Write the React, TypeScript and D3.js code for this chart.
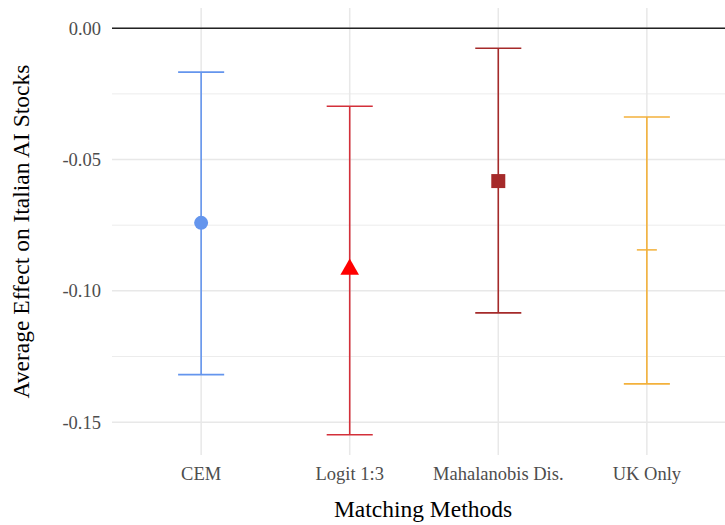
import React from 'react';
import * as d3 from 'd3';

// values
const methods = ['CEM', 'Logit 1:3', 'Mahalanobis Dis.', 'UK Only'];
const estimates = [-0.0741, -0.0918, -0.0582, -0.0844];
const lowerCI = [-0.1319, -0.1548, -0.1084, -0.1354];
const upperCI = [-0.0167, -0.0297, -0.0076, -0.0338];
const lineColors = ['#6495ED', '#d3303a', '#a52a2a', '#f3b13b'];
const pointColors = ['#6495ED', '#ff0000', '#a52a2a', '#f3b13b'];
const pointShapes = ['circle', 'triangle', 'square', 'dash'];
const yTicks = [0, -0.05, -0.1, -0.15];
const yMinorTicks = [-0.025, -0.075, -0.125];

const W = 725;
const H = 525;
const margin = { top: 8, right: -11, bottom: 70, left: 112 };
const font = '"Liberation Serif", "Times New Roman", serif';

export default function App() {
  const x = d3.scalePoint<string>()
    .domain(methods)
    .range([margin.left, W - margin.right])
    .padding(0.6);

  const y = d3.scaleLinear()
    .domain([-0.1625, 0.0077])
    .range([H - margin.bottom, margin.top]);

  const capW = x.step() * 0.31;
  const left = margin.left;
  const right = W - margin.right;
  const top = margin.top;
  const bottom = H - margin.bottom;

  const marker = (i: number) => {
    const cx = x(methods[i])!;
    const cy = y(estimates[i]);
    const c = pointColors[i];
    switch (pointShapes[i]) {
      case 'circle':
        return <circle cx={cx} cy={cy} r={7} fill={c} />;
      case 'triangle':
        return <path d={d3.symbol(d3.symbolTriangle, 150)()!} transform={`translate(${cx},${cy})`} fill={c} />;
      case 'square':
        return <rect x={cx - 7} y={cy - 7} width={14} height={14} fill={c} />;
      default:
        return <line x1={cx - 10} x2={cx + 10} y1={cy} y2={cy} stroke={c} strokeWidth={1.5} />;
    }
  };

  return (
    <svg width={W} height={H} style={{ display: 'block', position: 'absolute', left: 0, top: 0, background: '#fff' }}>
      <rect width={W} height={H} fill="#fff" />
      {/* grid */}
      {yMinorTicks.map(t => (
        <line key={'m' + t} x1={left} x2={right} y1={y(t)} y2={y(t)} stroke="#ececec" strokeWidth={1} />
      ))}
      {yTicks.map(t => (
        <line key={'g' + t} x1={left} x2={right} y1={y(t)} y2={y(t)} stroke="#e8e8e8" strokeWidth={1.5} />
      ))}
      {methods.map(m => (
        <line key={'v' + m} x1={x(m)} x2={x(m)} y1={top} y2={bottom} stroke="#e8e8e8" strokeWidth={1.5} />
      ))}
      {/* zero line */}
      <line x1={left} x2={right} y1={y(0)} y2={y(0)} stroke="#222" strokeWidth={1.5} />

      {/* error bars */}
      {methods.map((m, i) => {
        const cx = x(m)!;
        return (
          <g key={m} stroke={lineColors[i]} strokeWidth={1.6} fill="none">
            <line x1={cx} x2={cx} y1={y(upperCI[i])} y2={y(lowerCI[i])} />
            <line x1={cx - capW / 2} x2={cx + capW / 2} y1={y(upperCI[i])} y2={y(upperCI[i])} />
            <line x1={cx - capW / 2} x2={cx + capW / 2} y1={y(lowerCI[i])} y2={y(lowerCI[i])} />
          </g>
        );
      })}
      {methods.map((m, i) => <g key={'p' + m}>{marker(i)}</g>)}

      {/* y tick labels */}
      {yTicks.map(t => (
        <text key={'t' + t} x={left - 11} y={y(t)} dy="0.35em" textAnchor="end"
          fontFamily={font} fontSize={18.5} fill="#4d4d4d">{d3.format('.2f')(t).replace('−', '-')}</text>
      ))}
      {/* x tick labels */}
      {methods.map(m => (
        <text key={'x' + m} x={x(m)} y={480} textAnchor="middle"
          fontFamily={font} fontSize={18.5} fill="#4d4d4d">{m}</text>
      ))}
      <text x={(left + 736) / 2 - 1} y={517} textAnchor="middle" fontFamily={font} fontSize={23.5} fill="#000">Matching Methods</text>
      <text transform={`translate(29,${(top + bottom) / 2}) rotate(-90)`} textAnchor="middle"
        fontFamily={font} fontSize={23.5} fill="#000">Average Effect on Italian AI Stocks</text>
    </svg>
  );
}
